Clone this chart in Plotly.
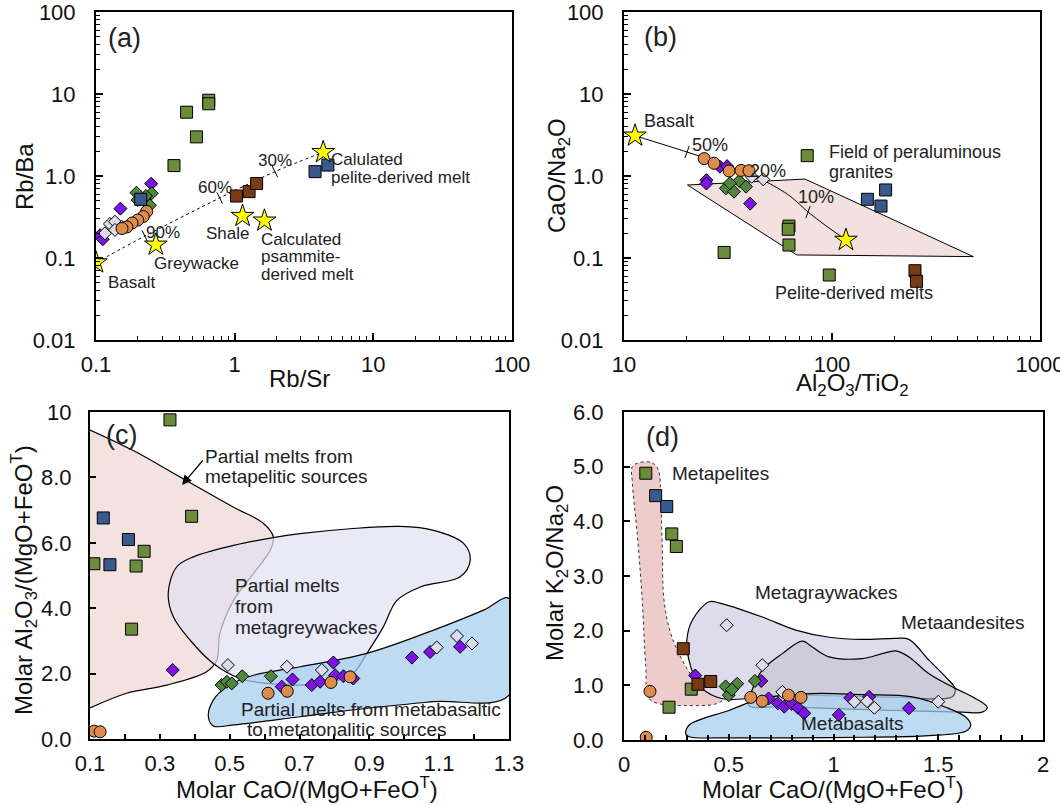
import numpy as np
import plotly.graph_objects as go

W, H = 1060, 806
FONT = "Arial, Liberation Sans, Helvetica, sans-serif"

# ---------------- Panel (a): Rb/Sr vs Rb/Ba ----------------
a_olive_x = [0.65, 0.65, 0.45, 0.53, 0.365]
a_olive_y = [8.4, 7.6, 6.0, 3.0, 1.34]
a_blue_x = [0.21, 3.8, 4.7]
a_blue_y = [0.52, 1.13, 1.36]
a_brown_x = [1.03, 1.27, 1.44]
a_brown_y = [0.57, 0.645, 0.81]
a_purple_x = [0.25, 0.15, 0.107, 0.112]
a_purple_y = [0.805, 0.40, 0.19, 0.169]
a_green_x = [0.196, 0.20, 0.252, 0.245, 0.229]
a_green_y = [0.625, 0.51, 0.615, 0.44, 0.57]
a_lav_x = [0.126, 0.116, 0.137, 0.153, 0.137]
a_lav_y = [0.26, 0.20, 0.277, 0.24, 0.22]
a_orange_x = [0.232, 0.219, 0.20, 0.182, 0.167, 0.154]
a_orange_y = [0.37, 0.32, 0.29, 0.267, 0.239, 0.229]
a_star_x = [0.1, 0.27, 1.14, 1.64, 4.35]
a_star_y = [0.088, 0.145, 0.325, 0.285, 1.95]
a_curve_x = [0.1, 0.225, 0.78, 1.95, 4.35]
a_curve_y = [0.088, 0.185, 0.54, 1.13, 1.95]
a_mark_x = [0.225, 0.78, 1.95]
a_mark_y = [0.185, 0.54, 1.13]

# ---------------- Panel (b): Al2O3/TiO2 vs CaO/Na2O ----------------
b_olive_x = [76, 62.1, 61.6, 62.1, 30.3, 97]
b_olive_y = [1.77, 0.245, 0.224, 0.144, 0.117, 0.062]
b_blue_x = [148, 181, 172]
b_blue_y = [0.52, 0.676, 0.43]
b_brown_x = [250.6, 255]
b_brown_y = [0.07, 0.052]
b_purple_x = [24.9, 24.9, 40.4, 28.9, 31.3]
b_purple_y = [0.89, 0.81, 0.46, 1.30, 1.32]
b_green_x = [30.9, 33.8, 35.8, 38.6, 32.3]
b_green_y = [0.708, 0.644, 0.87, 0.741, 0.815]
b_lav_x = [41.1, 46.7]
b_lav_y = [0.98, 0.91]
b_orange_x = [24.3, 27.1, 32.0, 36.5, 39.9]
b_orange_y = [1.63, 1.43, 1.15, 1.17, 1.16]
b_star_x = [11.3, 116.7]
b_star_y = [3.1, 0.166]
b_curve_x = [11.3, 20.1, 28.9, 46.6, 62.8, 76.7, 92.6, 116.7]
b_curve_y = [3.1, 1.96, 1.44, 0.89, 0.57, 0.364, 0.252, 0.166]
b_mark_x = [20.1, 76.7]
b_mark_y = [1.96, 0.364]
b_field_x = [20.2, 74.2, 478, 67.7, 20.2]
b_field_y = [0.776, 0.918, 0.104, 0.109, 0.776]

# ---------------- Panel (c): CaO/(MgO+FeOT) vs Al2O3/(MgO+FeOT) ----------------
c_olive_x = [0.329, 0.391, 0.111, 0.255, 0.232, 0.219]
c_olive_y = [9.76, 6.81, 5.36, 5.74, 5.29, 3.36]
c_blue_x = [0.138, 0.21, 0.157]
c_blue_y = [6.76, 6.10, 5.33]
c_purple_x = [0.337, 0.797, 1.022, 1.074, 1.16, 0.68, 0.649, 0.735, 0.759, 0.802, 0.826, 0.854]
c_purple_y = [2.11, 2.34, 2.49, 2.66, 2.82, 1.82, 1.60, 1.65, 1.75, 1.95, 1.92, 1.85]
c_lav_x = [0.495, 0.664, 0.764, 1.093, 1.151, 1.194]
c_lav_y = [2.26, 2.21, 2.11, 2.80, 3.15, 2.92]
c_green_x = [0.477, 0.492, 0.506, 0.536, 0.618]
c_green_y = [1.65, 1.75, 1.70, 1.92, 1.92]
c_orange_x = [0.112, 0.129, 0.61, 0.665, 0.79, 0.845]
c_orange_y = [0.24, 0.22, 1.40, 1.46, 1.73, 1.90]
c_pel_x = [0.1, 0.224, 0.358, 0.511, 0.597, 0.625, 0.616, 0.568, 0.511, 0.472, 0.463, 0.434, 0.32, 0.205, 0.1]
c_pel_y = [9.45, 8.82, 8.01, 7.09, 6.59, 6.18, 5.77, 5.06, 4.24, 3.23, 2.41, 2.06, 1.65, 1.40, 0.95]
c_gw_x = [0.348, 0.324, 0.339, 0.387, 0.453, 0.53, 0.606, 0.702, 0.797, 0.854, 0.893, 0.94, 0.979,
          1.046, 1.16, 1.189, 1.17, 1.084, 0.988, 0.845, 0.702, 0.625, 0.511, 0.396, 0.348]
c_gw_y = [5.26, 4.45, 3.73, 3.02, 2.31, 1.85, 1.70, 1.65, 1.75, 2.01, 2.62, 3.43, 4.24,
          4.65, 4.96, 5.47, 5.98, 6.38, 6.50, 6.43, 6.28, 6.16, 5.92, 5.57, 5.26]
c_mb_x = [0.568, 0.702, 0.893, 1.084, 1.227, 1.30, 1.30, 1.084, 0.893, 0.702, 0.511, 0.453, 0.439, 0.453, 0.492, 0.568]
c_mb_y = [1.95, 2.21, 2.62, 3.33, 3.94, 4.30, 1.34, 1.14, 0.94, 0.68, 0.43, 0.40, 0.68, 1.19, 1.60, 1.95]

# ---------------- Panel (d): CaO/(MgO+FeOT) vs K2O/Na2O ----------------
d_olive_x = [0.104, 0.228, 0.25, 0.321, 0.215]
d_olive_y = [4.88, 3.77, 3.54, 0.93, 0.60]
d_blue_x = [0.151, 0.204]
d_blue_y = [4.47, 4.27]
d_brown_x = [0.283, 0.353, 0.414]
d_brown_y = [1.67, 1.02, 1.07]
d_green_x = [0.485, 0.50, 0.54, 0.625, 0.515]
d_green_y = [0.98, 0.82, 1.03, 1.08, 0.92]
d_purple_x = [0.34, 0.655, 0.69, 0.735, 0.765, 0.80, 0.83, 0.86, 1.025, 1.08, 1.17, 1.36]
d_purple_y = [1.18, 1.08, 0.76, 0.67, 0.61, 0.66, 0.59, 0.49, 0.46, 0.77, 0.79, 0.58]
d_lav_x = [0.49, 0.66, 0.756, 1.10, 1.16, 1.195, 1.50]
d_lav_y = [2.10, 1.37, 0.88, 0.70, 0.71, 0.59, 0.70]
d_orange_x = [0.106, 0.124, 0.605, 0.66, 0.785, 0.845]
d_orange_y = [0.05, 0.89, 0.78, 0.71, 0.82, 0.78]
d_pel_x = [0.04, 0.08, 0.135, 0.164, 0.175, 0.183, 0.191, 0.223, 0.278, 0.342, 0.438, 0.477, 0.438,
           0.295, 0.183, 0.119, 0.104, 0.087, 0.063, 0.04, 0.04]
d_pel_y = [5.0, 5.08, 5.07, 4.94, 4.39, 3.48, 2.56, 1.95, 1.46, 1.09, 0.85, 0.76, 0.66,
           0.63, 0.65, 0.76, 1.34, 2.56, 3.78, 4.70, 5.0]
d_gw_x = [0.358, 0.31, 0.30, 0.326, 0.406, 0.453, 0.66, 0.82, 0.979, 1.137, 1.297, 1.36, 1.456, 1.536,
          1.58, 1.567, 1.313, 1.074, 0.835, 0.644, 0.501, 0.438, 0.358]
d_gw_y = [1.0, 1.46, 1.83, 2.19, 2.53, 2.51, 2.25, 2.01, 1.88, 1.84, 1.86, 1.84, 1.46, 1.15,
          0.94, 0.79, 0.78, 0.80, 0.82, 0.78, 0.74, 0.79, 1.0]
d_an_x = [0.597, 0.611, 0.66, 0.756, 0.851, 0.899, 0.979, 1.137, 1.233, 1.297, 1.36, 1.456, 1.583,
          1.663, 1.734, 1.71, 1.615, 1.297, 0.979, 0.74, 0.597]
d_an_y = [0.63, 0.91, 1.28, 1.58, 1.81, 1.70, 1.52, 1.49, 1.58, 1.63, 1.52, 1.21, 0.94,
          0.79, 0.60, 0.51, 0.51, 0.54, 0.58, 0.61, 0.63]
d_mb_x = [0.295, 0.31, 0.501, 0.66, 0.899, 1.137, 1.376, 1.536, 1.631, 1.655, 1.631, 1.456, 1.137,
          0.82, 0.501, 0.31, 0.295]
d_mb_y = [0.11, 0.27, 0.54, 0.76, 0.85, 0.83, 0.79, 0.60, 0.42, 0.27, 0.16, 0.08, 0.05,
          0.04, 0.04, 0.06, 0.11]

# ---------------- styles ----------------
OLIVE = "#6b8c3a"
BLUE = "#3b5a8c"
BROWN = "#7a3a12"
GREEN = "#4f873c"
PURPLE = "#7d14e6"
LAV = "#dcdcea"
ORANGE = "#de8c4b"
YELLOW = "#ffff00"

fig = go.Figure()


def pts(x, y, ax, symbol, color, size):
    fig.add_trace(go.Scatter(
        x=x, y=y, xaxis=ax[0], yaxis=ax[1], mode="markers", showlegend=False, hoverinfo="skip",
        marker=dict(symbol=symbol, color=color, size=size, line=dict(color="black", width=1))))


def poly(x, y, ax, fill, line_color="black", dash="solid", shape="spline", width=1.2):
    fig.add_trace(go.Scatter(
        x=x, y=y, xaxis=ax[0], yaxis=ax[1], mode="lines", fill="toself", fillcolor=fill,
        line=dict(color=line_color, width=width, dash=dash, shape=shape, smoothing=1.0),
        showlegend=False, hoverinfo="skip"))


def curve(x, y, ax, dash="solid", shape="spline"):
    fig.add_trace(go.Scatter(
        x=x, y=y, xaxis=ax[0], yaxis=ax[1], mode="lines",
        line=dict(color="black", width=1, dash=dash, shape=shape, smoothing=0.8),
        showlegend=False, hoverinfo="skip"))


def marks(x, y, ax, angle):
    fig.add_trace(go.Scatter(
        x=x, y=y, xaxis=ax[0], yaxis=ax[1], mode="markers", showlegend=False, hoverinfo="skip",
        marker=dict(symbol="line-ns", size=9, angle=angle, line=dict(color="black", width=1))))


def series(ax, d):
    pts(d["purple"][0], d["purple"][1], ax, "diamond", PURPLE, 10)
    pts(d["green"][0], d["green"][1], ax, "diamond", GREEN, 10)
    pts(d["lav"][0], d["lav"][1], ax, "diamond", LAV, 10)
    pts(d["orange"][0], d["orange"][1], ax, "circle", ORANGE, 12)
    pts(d["olive"][0], d["olive"][1], ax, "square", OLIVE, 12)
    pts(d["blue"][0], d["blue"][1], ax, "square", BLUE, 12)
    if "brown" in d:
        pts(d["brown"][0], d["brown"][1], ax, "square", BROWN, 12)


# Panel (a)
A = ("x", "y")
curve(a_curve_x, a_curve_y, A, dash="dot")
marks(a_mark_x, a_mark_y, A, -26)
series(A, dict(purple=(a_purple_x, a_purple_y), green=(a_green_x, a_green_y), lav=(a_lav_x, a_lav_y),
               orange=(a_orange_x, a_orange_y), olive=(a_olive_x, a_olive_y), blue=(a_blue_x, a_blue_y),
               brown=(a_brown_x, a_brown_y)))
pts(a_star_x, a_star_y, A, "star", YELLOW, 17)

# Panel (b)
B = ("x2", "y2")
poly(b_field_x, b_field_y, B, "#f3e1df", shape="linear", width=1)
curve(b_curve_x, b_curve_y, B)
marks(b_mark_x, b_mark_y, B, 20)
series(B, dict(purple=(b_purple_x, b_purple_y), green=(b_green_x, b_green_y), lav=(b_lav_x, b_lav_y),
               orange=(b_orange_x, b_orange_y), olive=(b_olive_x, b_olive_y), blue=(b_blue_x, b_blue_y),
               brown=(b_brown_x, b_brown_y)))
pts(b_star_x, b_star_y, B, "star", YELLOW, 17)

# Panel (c)
C = ("x3", "y3")
fig.add_trace(go.Scatter(x=c_pel_x, y=c_pel_y, xaxis="x3", yaxis="y3", mode="lines", fill="toself",
                         fillcolor="#f3e2e0", line=dict(color="black", width=1.2, shape="spline"),
                         showlegend=False, hoverinfo="skip"))
poly(c_gw_x, c_gw_y, C, "rgba(226,224,242,0.72)")
poly(c_mb_x, c_mb_y, C, "rgba(165,205,240,0.72)")
series(C, dict(purple=(c_purple_x, c_purple_y), green=(c_green_x, c_green_y), lav=(c_lav_x, c_lav_y),
               orange=(c_orange_x, c_orange_y), olive=(c_olive_x, c_olive_y), blue=(c_blue_x, c_blue_y)))

# Panel (d)
D = ("x4", "y4")
poly(d_pel_x, d_pel_y, D, "#eecccc", line_color="#333333", dash="dot", width=1)
poly(d_gw_x, d_gw_y, D, "rgba(222,220,236,1.0)")
poly(d_an_x, d_an_y, D, "rgba(185,185,192,0.45)")
poly(d_mb_x, d_mb_y, D, "rgba(165,205,240,0.72)")
series(D, dict(purple=(d_purple_x, d_purple_y), green=(d_green_x, d_green_y), lav=(d_lav_x, d_lav_y),
               orange=(d_orange_x, d_orange_y), olive=(d_olive_x, d_olive_y), blue=(d_blue_x, d_blue_y),
               brown=(d_brown_x, d_brown_y)))

# ---------------- axes ----------------
TICKFONT = dict(family=FONT, size=22, color="#111111")


def base_axis(domain, anchor):
    return dict(domain=domain, anchor=anchor, showline=True, linecolor="black", linewidth=2, mirror=True,
                ticks="inside", tickcolor="black", tickwidth=1.5, ticklen=7, showgrid=False, zeroline=False,
                tickfont=TICKFONT, automargin=False, ticklabeloverflow="allow")


def log_minor(lo, hi):
    return [k * 10.0 ** e for e in range(lo, hi) for k in range(2, 10)]


xa = base_axis([96 / W, 512 / W], "y")
xa.update(type="log", range=[-1, 2], tickvals=[0.1, 1, 10, 100], ticktext=["0.1", "1", "10", "100"],
          minor=dict(ticks="inside", ticklen=4, tickwidth=1, tickcolor="black", tickvals=log_minor(-1, 2)),
          ticklabelstandoff=4)
ya = base_axis([1 - 340 / H, 1 - 12 / H], "x")
ya.update(type="log", range=[-2, 2], tickvals=[0.01, 0.1, 1, 10, 100],
          ticktext=["0.01", "0.1", "1.0", "10", "100"],
          minor=dict(ticks="inside", ticklen=4, tickwidth=1, tickcolor="black", tickvals=log_minor(-2, 2)),
          ticklabelstandoff=14)
xb = base_axis([624 / W, 1040 / W], "y2")
xb.update(type="log", range=[1, 3], tickvals=[10, 100, 1000], ticktext=["10", "100", "1000"],
          minor=dict(ticks="inside", ticklen=4, tickwidth=1, tickcolor="black", tickvals=log_minor(1, 3)),
          ticklabelstandoff=4)
yb = base_axis([1 - 340 / H, 1 - 12 / H], "x2")
yb.update(type="log", range=[-2, 2], tickvals=[0.01, 0.1, 1, 10, 100],
          ticktext=["0.01", "0.1", "1.0", "10", "100"],
          minor=dict(ticks="inside", ticklen=4, tickwidth=1, tickcolor="black", tickvals=log_minor(-2, 2)),
          ticklabelstandoff=14)
xc = base_axis([90 / W, 509 / W], "y3")
xc.update(range=[0.1, 1.3], tickvals=[0.1, 0.3, 0.5, 0.7, 0.9, 1.1, 1.3],
          ticktext=["0.1", "0.3", "0.5", "0.7", "0.9", "1.1", "1.3"], ticklen=5,
          minor=dict(ticks="inside", ticklen=5, tickwidth=1.5, tickcolor="black", dtick=0.1, tick0=0.1),
          ticklabelstandoff=4)
yc = base_axis([1 - 739 / H, 1 - 412 / H], "x3")
yc.update(range=[0, 10], tickvals=[0, 2, 4, 6, 8, 10], ticktext=["0.0", "2.0", "4.0", "6.0", "8.0", "10"],
          ticklen=6, ticklabelstandoff=12)
xd = base_axis([624 / W, 1043 / W], "y4")
xd.update(range=[0, 2], tickvals=[0, 0.5, 1, 1.5, 2], ticktext=["0", "0.5", "1", "1.5", "2"], ticklen=6,
          minor=dict(ticks="inside", ticklen=5, tickwidth=1.5, tickcolor="black", dtick=0.1, tick0=0),
          ticklabelstandoff=4)
yd = base_axis([1 - 740 / H, 1 - 412 / H], "x4")
yd.update(range=[0, 6], tickvals=[0, 1, 2, 3, 4, 5, 6], ticktext=["0.0", "1.0", "2.0", "3.0", "4.0", "5.0", "6.0"],
          ticklen=6, ticklabelstandoff=14)

# ---------------- annotations ----------------
ann = []


def P(px, py):
    return px / W, 1 - py / H


def text(s, px, py, size=17, anchor="left", angle=0, color="#222222"):
    x, y = P(px, py)
    ann.append(dict(text=s, x=x, y=y, xref="paper", yref="paper", xanchor=anchor, yanchor="middle",
                    showarrow=False, textangle=angle, font=dict(family=FONT, size=size, color=color)))


# panel labels
text("(a)", 124, 38, 27, "center")
text("(b)", 660, 37, 27, "center")
text("(c)", 121, 435, 27, "center")
text("(d)", 662, 437, 27, "center")

# (a)
text("Basalt", 106, 282)
text("Greywacke", 152, 263)
text("Shale", 204, 234)
text("Calculated", 259, 239)
text("psammite-", 259, 257)
text("derived melt", 259, 274)
text("Calulated", 329, 159)
text("pelite-derived melt", 329, 177)
text("90%", 163, 232, 17, "center")
text("60%", 215, 188, 17, "center")
text("30%", 275, 160, 17, "center")
# (b)
text("Basalt", 642, 121, 18)
text("50%", 710, 145, 18, "center")
text("20%", 768, 171, 18, "center")
text("10%", 816, 197, 18, "center")
text("Field of peraluminous", 827, 152, 18)
text("granites", 827, 172, 18)
text("Pelite-derived melts", 773, 293, 18)
# (c)
text("Partial melts from", 203, 456, 19)
text("metapelitic sources", 203, 476, 19)
text("Partial melts", 233, 585, 19)
text("from", 233, 606, 19)
text("metagreywackes", 233, 627, 19)
text("Partial melts from metabasaltic", 239, 709, 19)
text("to metatonalitic sources", 245, 729, 19)
hx, hy = P(182, 485)
ann.append(dict(text="", x=hx, y=hy, xref="paper", yref="paper", showarrow=True, ax=22, ay=-26,
                arrowhead=2, arrowsize=1.6, arrowwidth=1.2, arrowcolor="black"))
# (d)
text("Metapelites", 670, 473, 19)
text("Metagraywackes", 753, 592, 19)
text("Metaandesites", 899, 622, 19)
text("Metabasalts", 799, 723, 19)

# axis titles
TS = 24
text("Rb/Ba", 24, 177, TS, "center", -90, "#111111")
text("Rb/Sr", 299, 379, TS, "center", 0, "#111111")
text("CaO/Na<sub>2</sub>O", 558, 176, TS, "center", -90, "#111111")
text("Al<sub>2</sub>O<sub>3</sub>/TiO<sub>2</sub>", 852, 384, TS, "center", 0, "#111111")
text("Molar Al<sub>2</sub>O<sub>3</sub>/(MgO+FeO<sup>T</sup>)", 24, 580, TS, "center", -90, "#111111")
text("Molar CaO/(MgO+FeO<sup>T</sup>)", 307, 788, TS, "center", 0, "#111111")
text("Molar K<sub>2</sub>O/Na<sub>2</sub>O", 556, 573, TS, "center", -90, "#111111")
text("Molar CaO/(MgO+FeO<sup>T</sup>)", 833, 788, TS, "center", 0, "#111111")

fig.update_layout(
    template="none",
    width=W, height=H, margin=dict(l=0, r=0, t=0, b=0, autoexpand=False), paper_bgcolor="white",
    plot_bgcolor="white", showlegend=False, font=dict(family=FONT),
    xaxis=xa, yaxis=ya, xaxis2=xb, yaxis2=yb, xaxis3=xc, yaxis3=yc, xaxis4=xd, yaxis4=yd,
    annotations=ann)

fig.write_html("out.html")
